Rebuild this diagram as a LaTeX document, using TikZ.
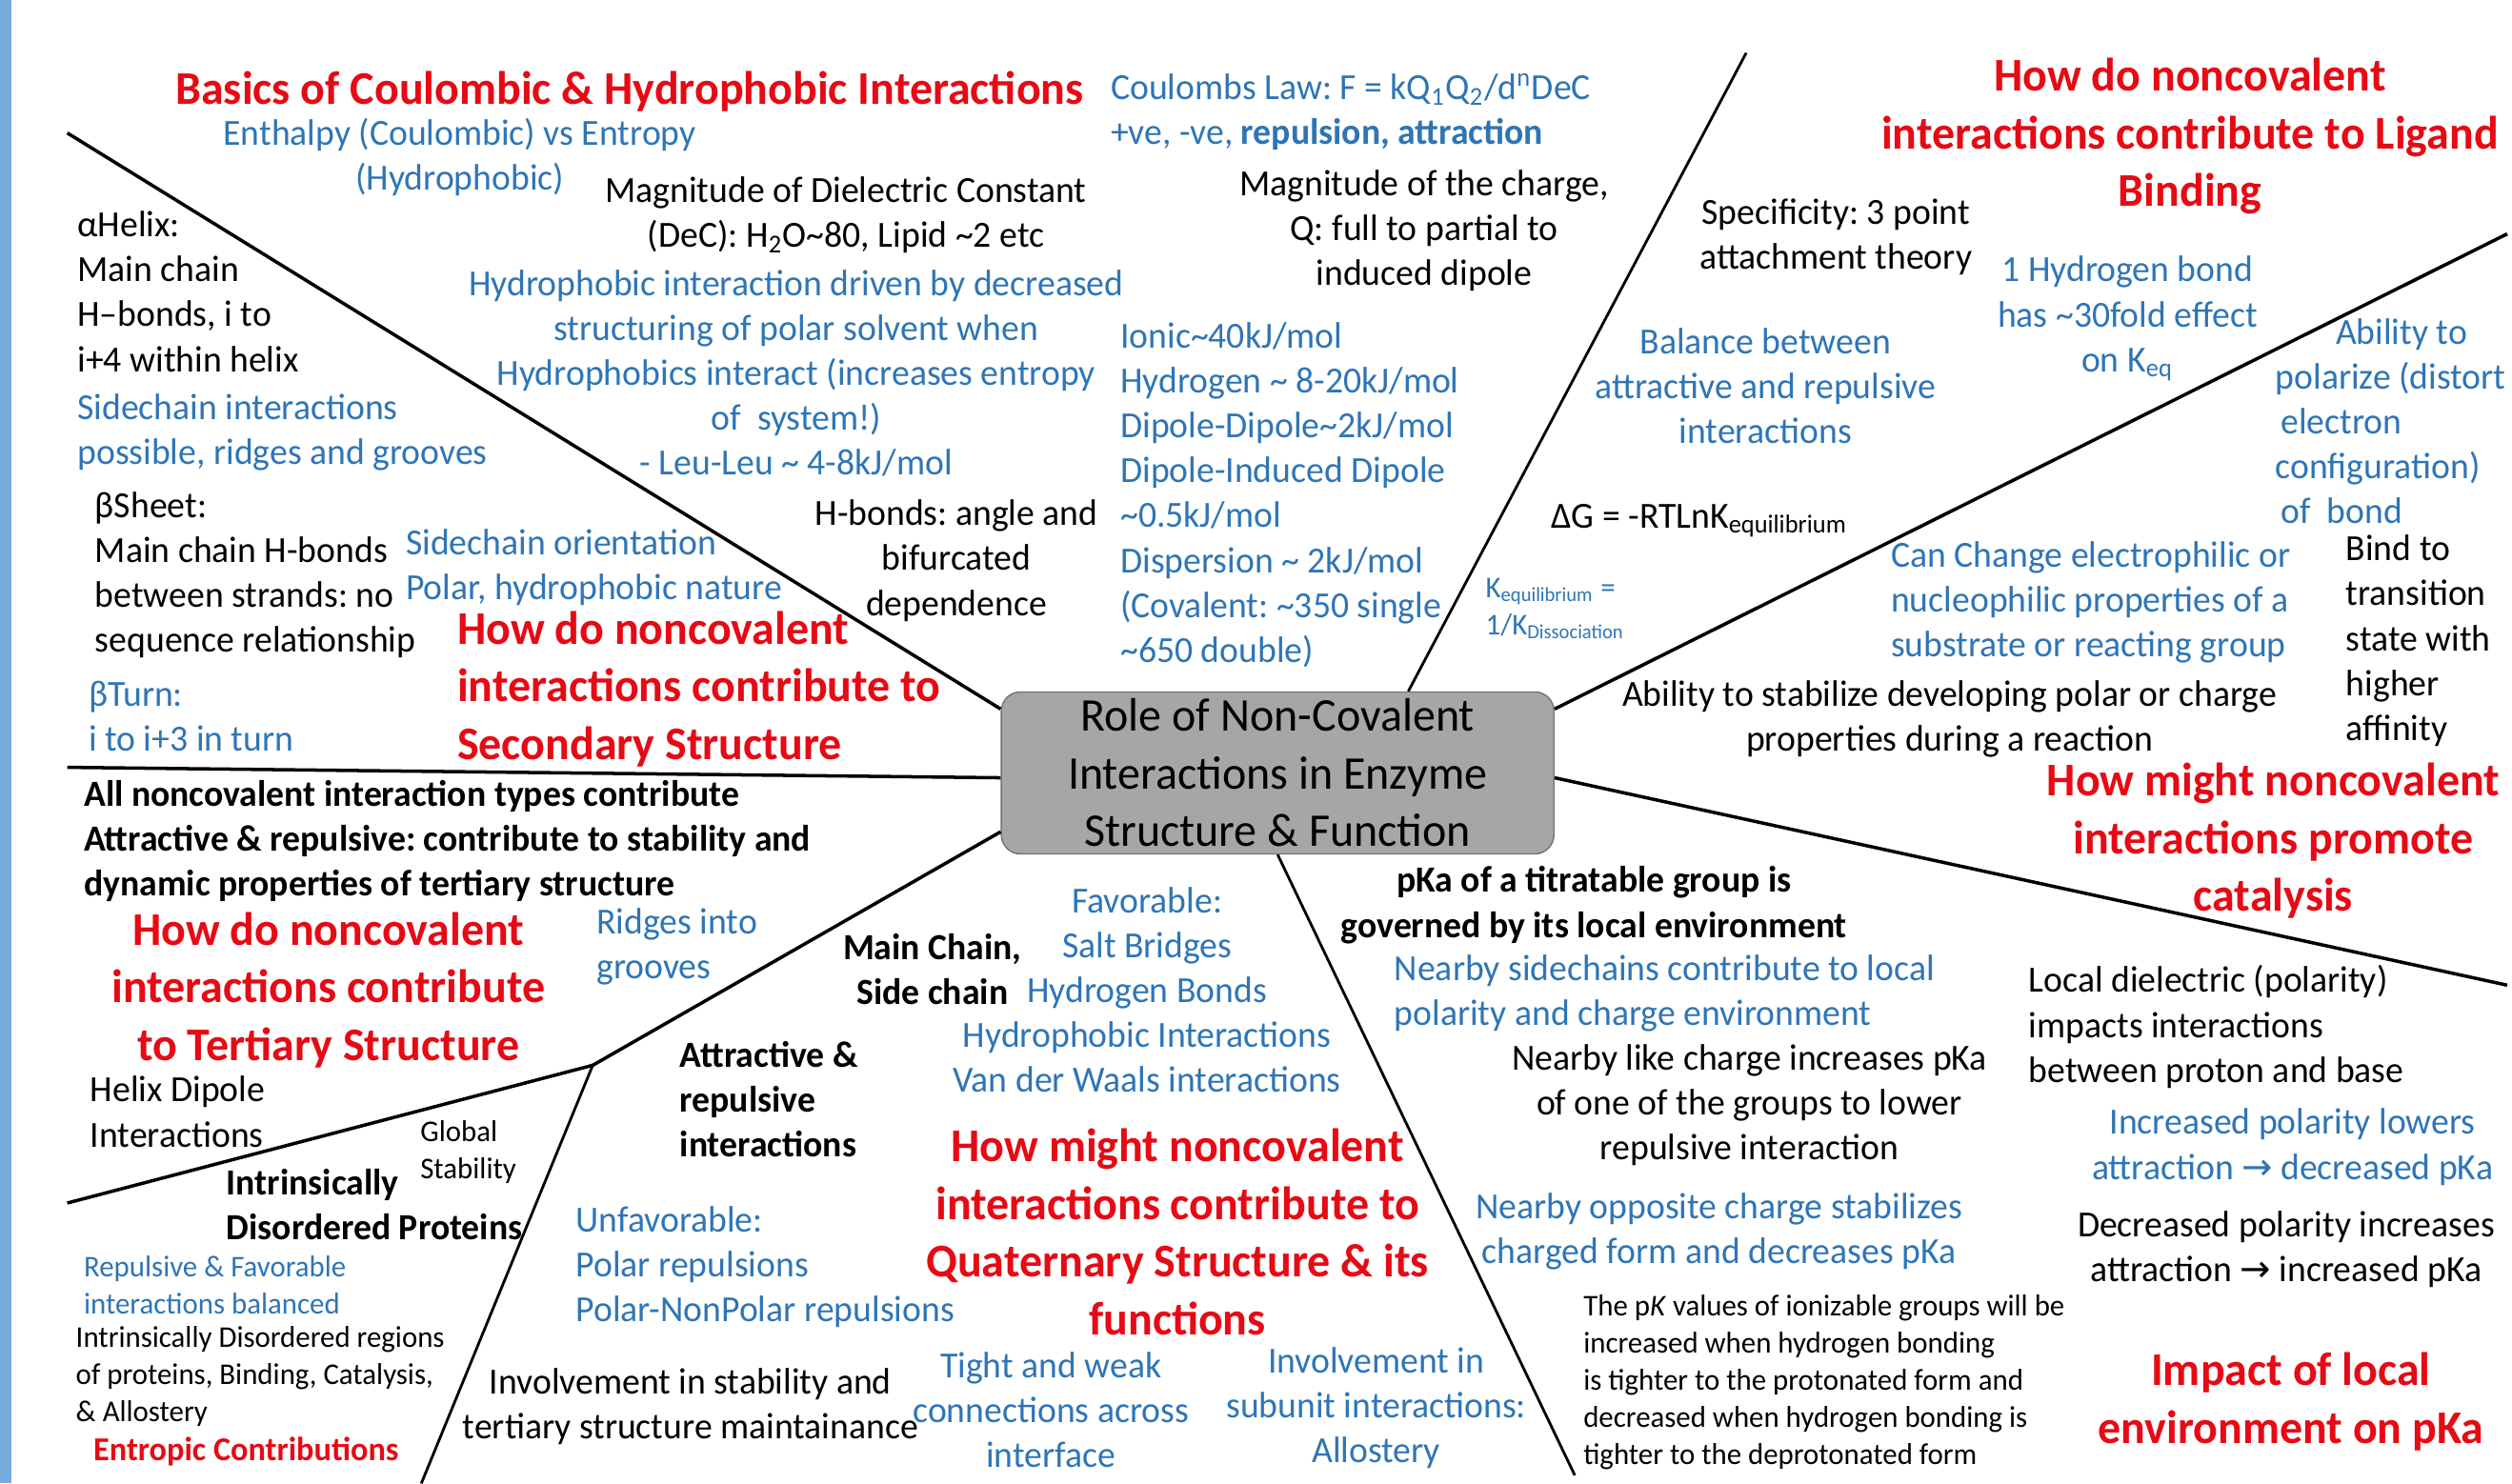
\documentclass[tikz,border=0pt]{standalone}
\usepackage{fontspec}
\setmainfont{Carlito}[FakeStretch=0.975]
\newfontfamily\arrowfont{DejaVu Sans}
\usetikzlibrary{positioning}
\definecolor{MMred}{RGB}{230,10,20}
\definecolor{MMblue}{RGB}{46,117,182}
\definecolor{MMbar}{RGB}{118,172,222}
\definecolor{MMcore}{RGB}{166,166,166}
\newcommand{\rarr}{{\arrowfont\char"2192}}
\newcommand{\tl}{\textasciitilde}
\frenchspacing
\tikzset{
  mm/core/.style={draw=black!55, fill=MMcore, rounded corners=2mm, minimum width=5.80cm, minimum height=1.70cm, align=center, font=\fontsize{14}{17.2}\selectfont, inner sep=0pt},
  mm/head/.style={text=MMred, font=\fontsize{14}{17.2}\selectfont\bfseries, inner sep=0pt},
  mm/note/.style={text=black, font=\fontsize{11}{13.4}\selectfont, inner sep=0pt},
  mm/blue/.style={mm/note, text=MMblue},
  mm/bold/.style={mm/note, font=\fontsize{11}{13.4}\selectfont\bfseries},
  mm/small/.style={text=black, font=\fontsize{9}{11.1}\selectfont, inner sep=0pt},
  mm/smallblue/.style={mm/small, text=MMblue},
  mm/left/.style={anchor=west, align=left},
  mm/mid/.style={align=center},
  mm/spoke/.style={line width=1pt},
  mm/thin/.style={line width=0.8pt}
}
\begin{document}
\begin{tikzpicture}[x=0.016818cm, y=-0.016818cm]
\useasboundingbox (0,0) rectangle (1568,926);
\fill[MMbar] (0,0) rectangle (7,926);

% centre
\node[mm/core] (core) at (797.5,482.5) {Role of Non-Covalent\\Interactions in Enzyme\\Structure \& Function};

% spoke ends
\coordinate (e1) at (42,83);
\coordinate (e2) at (42,479);
\coordinate (fork) at (370,665);
\coordinate (e3a) at (42,751);
\coordinate (e3b) at (263,926);
\coordinate (e4) at (983,921);
\coordinate (e5) at (1565,615);
\coordinate (e6) at (1565,146);
\coordinate (e7) at (1090,33);

\draw[mm/spoke] (core.167) -- (e1);
\draw[mm/spoke] (core.181) -- (e2);
\draw[mm/spoke] (core.192) -- (fork);
\draw[mm/spoke] (fork) -- (e3a);
\draw[mm/thin] (fork) -- (e3b);
\draw[mm/thin] (core.270) -- (e4);
\draw[mm/spoke] (core.-1) -- (e5);
\draw[mm/spoke] (core.13) -- (e6);
\draw[mm/thin] (core.32) -- (e7);

% basics
\node[mm/head] (basics) at (393,57) {Basics of Coulombic \& Hydrophobic Interactions};
\node[mm/blue, mm/mid] (enthalpy) at (287,98) {Enthalpy (Coulombic) vs Entropy\\(Hydrophobic)};
\node[mm/note, mm/mid] (dielec) at (528,134) {Magnitude of Dielectric Constant\\(DeC): H\textsubscript{2}O\tl80, Lipid \tl2 etc};
\node[mm/blue, mm/mid] (hphob) at (497,233) {Hydrophobic interaction driven by decreased\\structuring of polar solvent when\\Hydrophobics interact (increases entropy\\of~ system!)\\- Leu-Leu \tl{} 4-8kJ/mol};
\node[mm/blue, mm/left] (coulomb) at (693,70) {Coulombs Law: F = kQ\textsubscript{1}Q\textsubscript{2}/d\textsuperscript{n}DeC\\+ve, -ve, \textbf{repulsion, attraction}};
\node[mm/note, mm/mid] (charge) at (889,144) {Magnitude of the charge,\\Q: full to partial to\\induced dipole};
\node[mm/blue, mm/left] (energy) at (699,309) {Ionic\tl40kJ/mol\\Hydrogen \tl{} 8-20kJ/mol\\Dipole-Dipole\tl2kJ/mol\\Dipole-Induced Dipole\\\tl0.5kJ/mol\\Dispersion \tl{} 2kJ/mol\\(Covalent: \tl350 single\\\tl650 double)};
\node[mm/note, mm/mid] (hbond) at (597,350) {H-bonds: angle and\\bifurcated\\dependence};

% secondary structure
\node[mm/note, mm/left] (helix) at (48,182) {αHelix:\\Main chain\\H–bonds, i to\\i+4 within helix};
\node[mm/blue, mm/left] (sidech) at (48,270) {Sidechain interactions\\possible, ridges and grooves};
\node[mm/note, mm/left] (sheet) at (59,359) {βSheet:\\Main chain H-bonds\\between strands: no\\sequence relationship};
\node[mm/blue, mm/left] (orient) at (253,354) {Sidechain orientation\\Polar, hydrophobic nature};
\node[mm/blue, mm/left] (turn) at (55,447) {βTurn:\\i to i+3 in turn};
\node[mm/head, mm/left] (second) at (285,430) {How do noncovalent\\interactions contribute to\\Secondary Structure};

% tertiary structure
\node[mm/bold, mm/left] (allnc) at (52,525) {All noncovalent interaction types contribute\\Attractive \& repulsive: contribute to stability and\\dynamic properties of tertiary structure};
\node[mm/head, mm/mid] (tert) at (205,618) {How do noncovalent\\interactions contribute\\to Tertiary Structure};
\node[mm/blue, mm/left] (ridges) at (372,591) {Ridges into\\grooves};
\node[mm/note, mm/left] (hdip) at (56,694) {Helix Dipole\\Interactions};
\node[mm/small, mm/left] (global) at (262,719) {Global\\Stability};
\node[mm/bold, mm/left] (idp) at (141,752) {Intrinsically\\Disordered Proteins};
\node[mm/smallblue, mm/left] (balanced) at (52,802) {Repulsive \& Favorable\\interactions balanced};
\node[mm/small, mm/left] (idr) at (47,859) {Intrinsically Disordered regions\\of proteins, Binding, Catalysis,\\\& Allostery};
\node[mm/small, mm/left, text=MMred, font=\fontsize{10}{12}\selectfont\bfseries] (entropic) at (58,906) {Entropic Contributions};

% quaternary structure
\node[mm/bold, mm/mid] (mainch) at (582,605) {Main Chain,\\Side chain};
\node[mm/blue, mm/mid] (fav) at (716,618) {Favorable:\\Salt Bridges\\Hydrogen Bonds\\Hydrophobic Interactions\\Van der Waals interactions};
\node[mm/bold, mm/left] (attrep) at (424,686) {Attractive \&\\repulsive\\interactions};
\node[mm/head, mm/mid] (quat) at (735,769) {How might noncovalent\\interactions contribute to\\Quaternary Structure \& its\\functions};
\node[mm/blue, mm/left] (unfav) at (359,791) {Unfavorable:\\Polar repulsions\\Polar-NonPolar repulsions};
\node[mm/note, mm/mid] (maint) at (431,878) {Involvement in stability and\\tertiary structure maintainance};
\node[mm/blue, mm/mid] (tight) at (656,880) {Tight and weak\\connections across\\interface};
\node[mm/blue, mm/mid] (subunit) at (859,879) {Involvement in\\subunit interactions:\\Allostery};

% local environment
\node[mm/bold, mm/mid] (pka) at (995,565) {pKa of a titratable group is\\governed by its local environment};
\node[mm/blue, mm/left] (nearby) at (870,620) {Nearby sidechains contribute to local\\polarity and charge environment};
\node[mm/note, mm/mid] (like) at (1092,690) {Nearby like charge increases pKa\\of one of the groups to lower\\repulsive interaction};
\node[mm/blue, mm/mid] (opp) at (1073,769) {Nearby opposite charge stabilizes\\charged form and decreases pKa};
\node[mm/small, mm/left] (pkval) at (988,863) {The p\textit{K} values of ionizable groups will be\\increased when hydrogen bonding\\is tighter to the protonated form and\\decreased when hydrogen bonding is\\tighter to the deprotonated form};
\node[mm/note, mm/left] (ldiel) at (1266,641) {Local dielectric (polarity)\\impacts interactions\\between proton and base};
\node[mm/blue, mm/mid] (incpol) at (1431,716) {Increased polarity lowers\\attraction \rarr{} decreased pKa};
\node[mm/note, mm/mid] (decpol) at (1427,780) {Decreased polarity increases\\attraction \rarr{} increased pKa};
\node[mm/head, mm/mid] (impact) at (1430,875) {Impact of local\\environment on pKa};

% catalysis
\node[mm/head, mm/mid] (catal) at (1419,525) {How might noncovalent\\interactions promote\\catalysis};
\node[mm/note, mm/mid] (stab) at (1217,449) {Ability to stabilize developing polar or charge\\properties during a reaction};
\node[mm/blue, mm/left] (change) at (1180,376) {Can Change electrophilic or\\nucleophilic properties of a\\substrate or reacting group};
\node[mm/note, mm/left] (bindts) at (1464,400) {Bind to\\transition\\state with\\higher\\affinity};
\node[mm/blue, mm/left] (polar) at (1420,263) {\hspace*{45\pgflinewidth}Ability to\\polarize (distort\\\hspace*{4\pgflinewidth}electron\\configuration)\\\hspace*{4\pgflinewidth}of~ bond};

% ligand binding
\node[mm/head, mm/mid] (ligand) at (1367,85) {How do noncovalent\\interactions contribute to Ligand\\Binding};
\node[mm/note, mm/mid] (specif) at (1146,148) {Specificity: 3 point\\attachment theory};
\node[mm/blue, mm/mid] (onehb) at (1328,199) {1 Hydrogen bond\\has \tl30fold effect\\on K\textsubscript{eq}};
\node[mm/blue, mm/mid] (balance) at (1102,241) {Balance between\\attractive and repulsive\\interactions};
\node[mm/note, mm/left] (dg) at (968,325) {ΔG = -RTLnK\textsubscript{equilibrium}};
\node[mm/smallblue, mm/left] (keq) at (927,380) {K\textsubscript{equilibrium} =\\1/K\textsubscript{Dissociation}};
\end{tikzpicture}
\end{document}
